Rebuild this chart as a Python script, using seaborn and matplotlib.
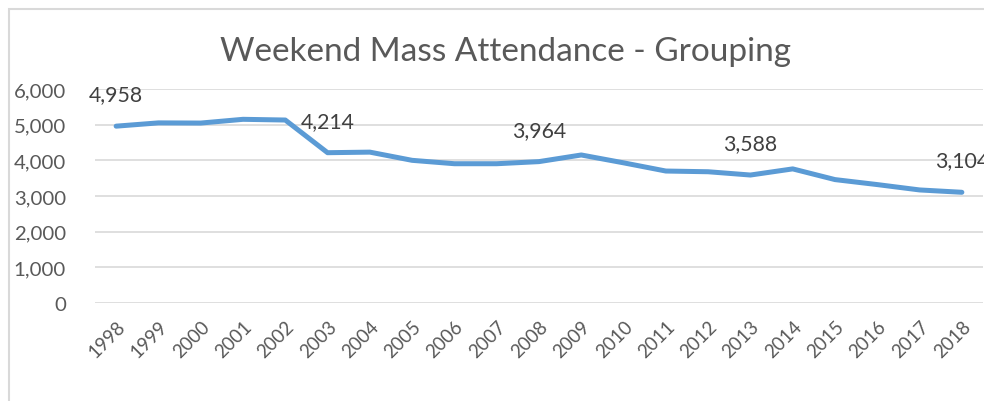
import matplotlib
matplotlib.use("Agg")
import matplotlib.pyplot as plt
import pandas as pd
import seaborn as sns
from matplotlib.patches import Rectangle

# values
years = [str(y) for y in range(1998, 2019)]
attendance = [4958, 5050, 5045, 5150, 5130, 4214, 4230, 4000, 3905, 3905,
              3964, 4150, 3930, 3700, 3680, 3588, 3760, 3460, 3320, 3170, 3104]
labelled_years = ["1998", "2003", "2008", "2013", "2018"]

TITLE = "Weekend Mass Attendance - Grouping"
LINE_COLOR = "#5B9BD5"
TEXT_COLOR = "#595959"
GRID_COLOR = "#D9D9D9"

sns.set_style("white")
plt.rcParams["font.family"] = ["Lato", "DejaVu Sans"]

df = pd.DataFrame({"year": years, "attendance": attendance})

fig = plt.figure(figsize=(9.84, 4.02), dpi=100)
ax = fig.add_axes([95 / 984, 98 / 402, 888 / 984, 214 / 402])

sns.lineplot(data=df, x="year", y="attendance", ax=ax, color=LINE_COLOR,
             linewidth=3.6, sort=False, solid_capstyle="round")

ax.set_xlim(-0.5, len(years) - 0.5)
ax.set_ylim(0, 6000)
ax.set_yticks(range(0, 6001, 1000))
ax.set_yticklabels([f"{v:,}" for v in range(0, 6001, 1000)])
ax.yaxis.grid(True, color=GRID_COLOR, linewidth=1.2)
ax.set_axisbelow(True)
for s in ax.spines.values():
    s.set_visible(False)
ax.set_xlabel("")
ax.set_ylabel("")

ax.tick_params(axis="y", length=0, pad=21, labelsize=14.7, labelcolor=TEXT_COLOR)
ax.tick_params(axis="x", length=0, pad=10, labelsize=13.5, labelcolor=TEXT_COLOR)
plt.setp(ax.get_xticklabels(), rotation=45, ha="right", rotation_mode="anchor")

# data labels above selected points
for yr, val in zip(years, attendance):
    if yr in labelled_years:
        i = years.index(yr)
        ax.annotate(f"{val:,}", (i, val), xytext=(0, 23), textcoords="offset points",
                    ha="center", va="center", fontsize=15.3, color="#404040",
                    clip_on=False, annotation_clip=False)

fig.text(505 / 984, 1 - 52 / 402, TITLE, ha="center", va="center",
         fontsize=24, color=TEXT_COLOR)

# chart-area border (cropped on the right and bottom)
fig.patches.append(Rectangle((9 / 984, -0.05), 1.2, 1 - 10 / 402 + 0.05,
                             transform=fig.transFigure, fill=False,
                             edgecolor=GRID_COLOR, linewidth=1.5))

fig.savefig("out.png", dpi=100)
